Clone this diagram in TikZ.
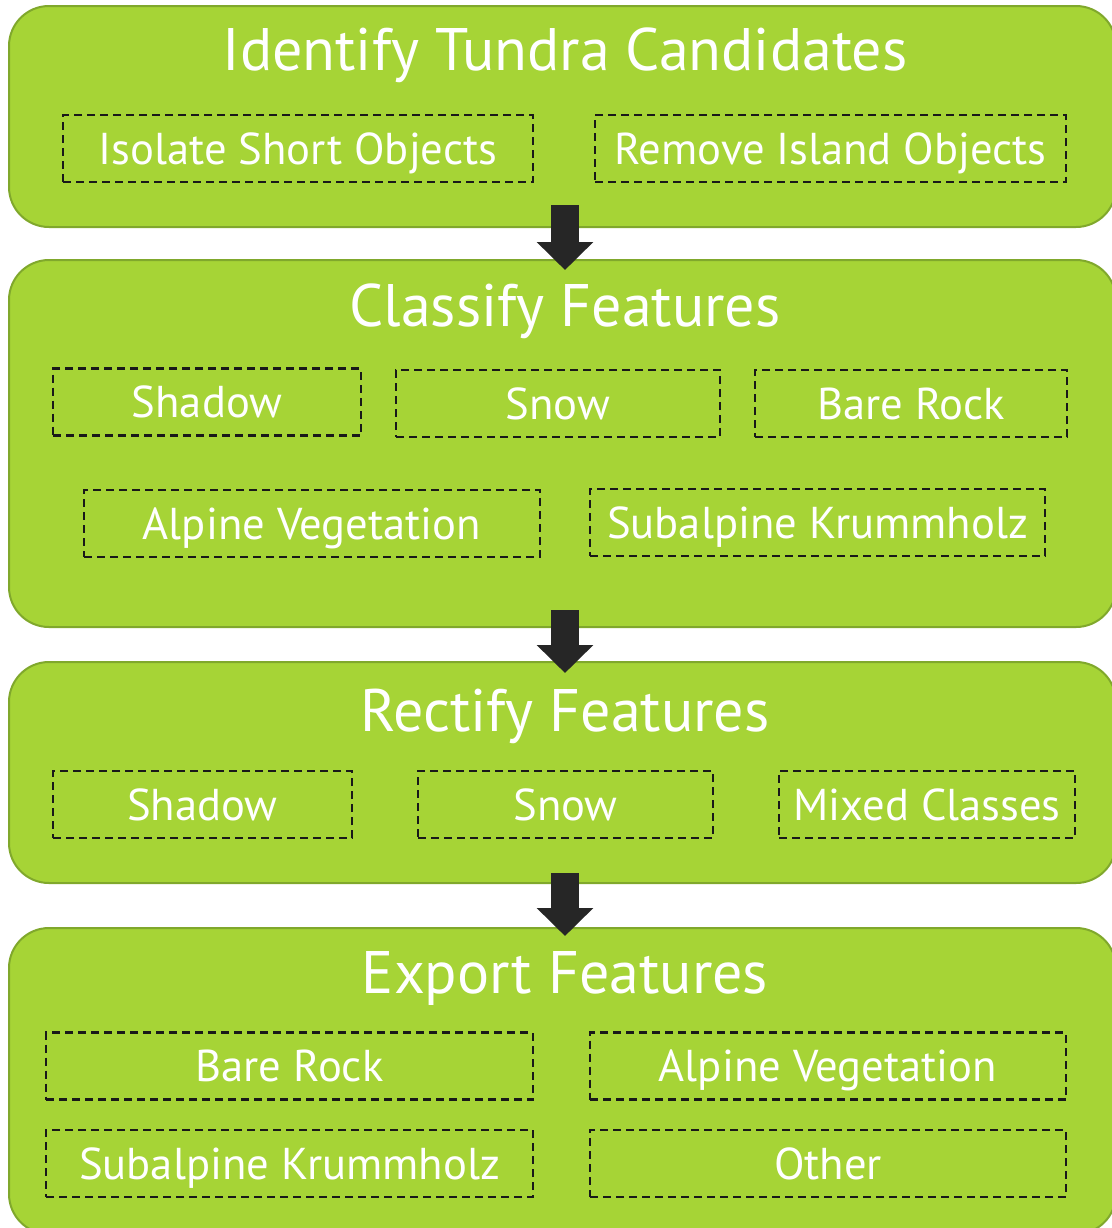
\documentclass[tikz,border=0pt]{standalone}
\usepackage{fontspec}
\setmainfont{PT Sans}
\usetikzlibrary{arrows.meta}
\definecolor{leaf}{RGB}{166,212,54}
\definecolor{leafedge}{RGB}{128,168,44}
\definecolor{blockarr}{RGB}{38,38,38}
\begin{document}
\begin{tikzpicture}[
    x=0.5pt, y=-0.5pt,
    stage/.style={rectangle, draw=leafedge, fill=leaf, line width=1pt,
                  rounded corners=20pt, minimum width=553.5pt},
    title/.style={anchor=base, text=white, font=\fontsize{30}{30}\selectfont},
    task/.style={rectangle, draw=black!90, line width=1.1pt,
                 dash pattern=on 4pt off 2.5pt, text=white,
                 font=\fontsize{22.3}{22.3}\selectfont,
                 text height=15.6pt, text depth=0pt,
                 minimum height=33.5pt, inner sep=0pt},
    flow/.style={-{Triangle[width=27.5pt, length=14pt]}, line width=14pt,
                 draw=blockarr, fill=blockarr},
  ]
  \useasboundingbox (0,0) rectangle (1112,1228);
  \clip (0,0) rectangle (1112,1228);

  % ===== Stage boxes =====
  \node[stage, minimum height=110.5pt] (ident) at (562.5,116.5) {};
  \node[stage, minimum height=183.5pt] (classif) at (562.5,443.5) {};
  \node[stage, minimum height=110.5pt] (rectif) at (562.5,772.5) {};
  \node[stage, minimum height=153pt] (export) at (562.5,1081) {};

  % Stage 1: Identify
  \node[title] (identT) at (565,70) {Identify Tundra Candidates};
  \node[task, minimum width=235pt] (isolate) at (298,148.5) {Isolate Short Objects};
  \node[task, minimum width=235.5pt] (island) at (830.5,148.5) {Remove Island Objects};

  % Stage 2: Classify
  \node[title] (classifT) at (565,326) {Classify Features};
  \node[task, minimum width=154pt] (cshadow) at (207,402) {Shadow};
  \node[task, minimum width=162pt] (csnow) at (558,403.5) {Snow};
  \node[task, minimum width=156pt] (crock) at (911,403.5) {Bare Rock};
  \node[task, minimum width=228pt] (calpine) at (312,523.5) {Alpine Vegetation};
  \node[task, minimum width=227.5pt] (ckrumm) at (817.5,522.5) {Subalpine Krummholz};

  % Stage 3: Rectify
  \node[title] (rectifT) at (565,731) {Rectify Features};
  \node[task, minimum width=149.5pt] (rshadow) at (202.5,804.5) {Shadow};
  \node[task, minimum width=147.5pt] (rsnow) at (565.5,804.5) {Snow};
  \node[task, minimum width=148pt] (rmixed) at (927,804.5) {Mixed Classes};

  % Stage 4: Export
  \node[title] (exportT) at (565,993) {Export Features};
  \node[task, minimum width=243.5pt] (erock) at (289.5,1066) {Bare Rock};
  \node[task, minimum width=238pt] (ealpine) at (828,1066) {Alpine Vegetation};
  \node[task, minimum width=243.5pt] (ekrumm) at (289.5,1163.5) {Subalpine Krummholz};
  \node[task, minimum width=238pt] (eother) at (828,1163.5) {Other};

  % ===== Block arrows between stages =====
  \coordinate (a1) at (565,205);
  \coordinate (b1) at (565,270);
  \coordinate (a2) at (565,610);
  \coordinate (b2) at (565,673);
  \coordinate (a3) at (565,873);
  \coordinate (b3) at (565,936);
  \draw[flow] (a1) -- (b1);
  \draw[flow] (a2) -- (b2);
  \draw[flow] (a3) -- (b3);

\end{tikzpicture}
\end{document}
